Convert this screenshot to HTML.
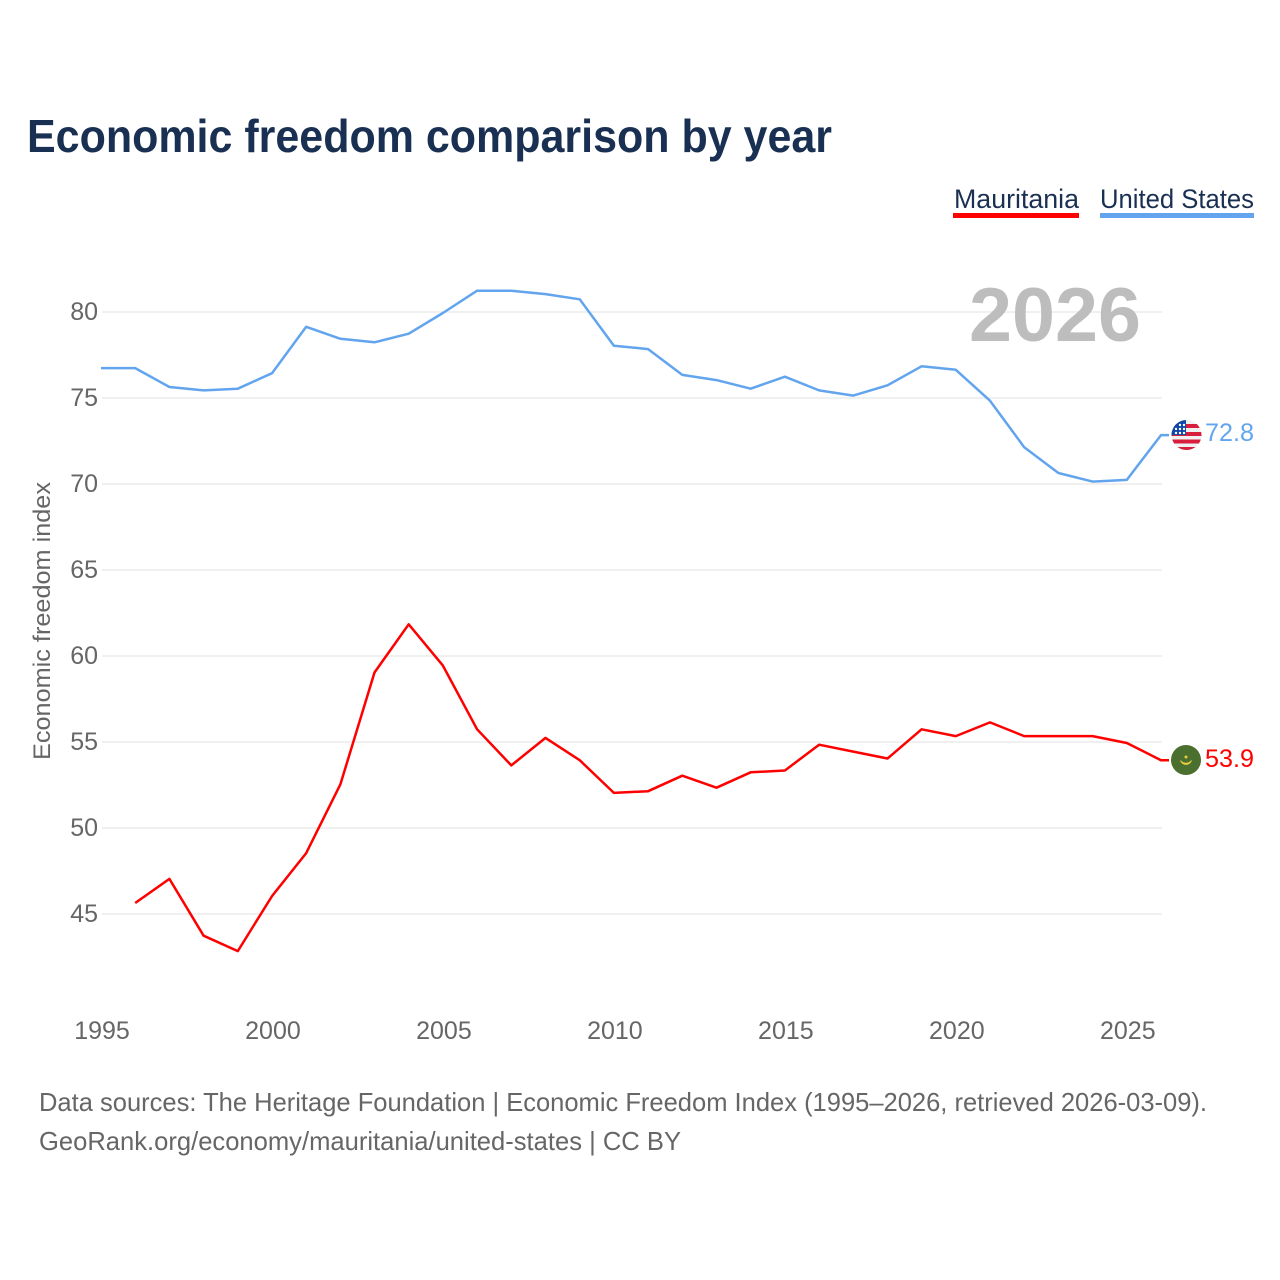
<!DOCTYPE html>
<html lang="en">
<head>
<meta charset="utf-8">
<title>Economic freedom comparison by year</title>
<style>
html,body{margin:0;padding:0;background:#fff;width:1280px;height:1280px;overflow:hidden}
svg{display:block}
text{font-family:"Liberation Sans",sans-serif}
</style>
</head>
<body>
<svg id="chart" xmlns="http://www.w3.org/2000/svg" width="1280" height="1280" viewBox="0 0 1280 1280">
  <defs>
    <clipPath id="us-clip"><circle cx="1186.5" cy="435" r="15"/></clipPath>
    <clipPath id="mr-clip"><circle cx="1186" cy="760" r="15"/></clipPath>
  </defs>
  <text x="27" y="152" font-size="46" font-weight="700" fill="#1a3052" textLength="805" lengthAdjust="spacingAndGlyphs">Economic freedom comparison by year</text>

  <g>
    <text x="954" y="208" font-size="27" fill="#1a3052" textLength="125" lengthAdjust="spacingAndGlyphs">Mauritania</text>
    <rect x="953" y="213" width="126" height="5" fill="#ff0000"/>
  </g>
  <g>
    <text x="1100" y="208" font-size="27" fill="#1a3052" textLength="154" lengthAdjust="spacingAndGlyphs">United States</text>
    <rect x="1100" y="213" width="154" height="5" fill="#62a5ee"/>
  </g>

  <g id="grid"></g>
  <g id="yticks"></g>
  <g id="xticks"></g>

  <text x="969" y="341" font-size="76" font-weight="700" fill="#bdbdbd" textLength="172" lengthAdjust="spacingAndGlyphs">2026</text>

  <text transform="translate(50,621) rotate(-90)" text-anchor="middle" font-size="24" fill="#666666" textLength="278" lengthAdjust="spacingAndGlyphs">Economic freedom index</text>

  <g id="series" transform="translate(-1,-0.7)"></g>

  <g clip-path="url(#us-clip)">
    <rect x="1171" y="420" width="31" height="30" fill="#f0f0f0"/>
    <rect x="1171" y="424" width="31" height="4" fill="#d81e3c"/>
    <rect x="1171" y="432" width="31" height="4" fill="#d81e3c"/>
    <rect x="1171" y="439.500" width="31" height="4" fill="#d81e3c"/>
    <rect x="1171" y="447" width="31" height="3" fill="#d81e3c"/>
    <rect x="1171" y="420" width="15" height="15" fill="#0d47a8"/>
    <g fill="#ffffff">
      <circle cx="1176" cy="429" r="1.200"/><circle cx="1180" cy="429" r="1.200"/><circle cx="1184" cy="429" r="1.200"/>
      <circle cx="1176" cy="433" r="1.200"/><circle cx="1180" cy="433" r="1.200"/><circle cx="1184" cy="433" r="1.200"/>
      <circle cx="1180" cy="425" r="1.200"/><circle cx="1184" cy="425" r="1.200"/>
    </g>
  </g>
  <g>
    <circle cx="1186" cy="760" r="15" fill="#4a6f2f"/>
    <path d="M1180.500 760.500 A5.800 5.800 0 0 0 1191.500 760.500 A7 7 0 0 1 1180.500 760.500 Z" fill="#e8cf3c" stroke="#e8cf3c" stroke-width="0.800"/>
    <circle cx="1186" cy="757" r="1.500" fill="#e8cf3c"/>
  </g>

  <text x="1205" y="441" font-size="25" fill="#62a5ee" textLength="49" lengthAdjust="spacingAndGlyphs">72.8</text>
  <text x="1205" y="767" font-size="25" fill="#ff0000" textLength="49" lengthAdjust="spacingAndGlyphs">53.9</text>

  <text x="39" y="1111" font-size="26" fill="#666666" textLength="1168" lengthAdjust="spacingAndGlyphs">Data sources: The Heritage Foundation | Economic Freedom Index (1995–2026, retrieved 2026-03-09).</text>
  <text x="39" y="1150" font-size="26" fill="#666666" textLength="642" lengthAdjust="spacingAndGlyphs">GeoRank.org/economy/mauritania/united-states | CC BY</text>
</svg>
<script>
const years = [1995,1996,1997,1998,1999,2000,2001,2002,2003,2004,2005,2006,2007,2008,2009,2010,2011,2012,2013,2014,2015,2016,2017,2018,2019,2020,2021,2022,2023,2024,2025,2026];
const unitedStates = [76.7,76.7,75.6,75.4,75.5,76.4,79.1,78.4,78.2,78.7,79.9,81.2,81.2,81.0,80.7,78.0,77.8,76.3,76.0,75.5,76.2,75.4,75.1,75.7,76.8,76.6,74.8,72.1,70.6,70.1,70.2,72.8];
const mauritania = [null,45.6,47.0,43.7,42.8,46.0,48.5,52.5,59.0,61.8,59.4,55.7,53.6,55.2,53.9,52.0,52.1,53.0,52.3,53.2,53.3,54.8,54.4,54.0,55.7,55.3,56.1,55.3,55.3,55.3,54.9,53.9];
const yTicks = [45,50,55,60,65,70,75,80];
const xTicks = [1995,2000,2005,2010,2015,2020,2025];

const NS = 'http://www.w3.org/2000/svg';
function xScale(year){ return 102 + (year - 1995) * (1162 - 102) / 31; }
function yScale(v){ return 312 + (80 - v) * 17.2; }

const gridG = document.getElementById('grid');
const yG = document.getElementById('yticks');
const xG = document.getElementById('xticks');
const seriesG = document.getElementById('series');

yTicks.forEach(function(t){
  const line = document.createElementNS(NS,'line');
  
  
  line.setAttribute('x1', xScale(1995));
  line.setAttribute('x2', xScale(2026));
  line.setAttribute('y1', yScale(t));
  line.setAttribute('y2', yScale(t));
  line.setAttribute('stroke', '#f0f0f0');
  line.setAttribute('stroke-width', '2');
  gridG.appendChild(line);

  const label = document.createElementNS(NS,'text');
  
  
  label.setAttribute('x', 98);
  label.setAttribute('y', yScale(t) + 8);
  label.setAttribute('text-anchor', 'end');
  label.setAttribute('font-size', '25');
  label.setAttribute('fill', '#666666');
  label.textContent = t;
  yG.appendChild(label);
});

xTicks.forEach(function(t){
  const label = document.createElementNS(NS,'text');
  
  
  label.setAttribute('x', xScale(t));
  label.setAttribute('y', 1039);
  label.setAttribute('text-anchor', 'middle');
  label.setAttribute('font-size', '25');
  label.setAttribute('fill', '#666666');
  label.textContent = t;
  xG.appendChild(label);
});

function buildPath(values){
  let d = '';
  let last = null;
  values.forEach(function(v, i){
    if (v === null) return;
    d += (d ? 'L' : 'M') + xScale(years[i]).toFixed(1) + ' ' + yScale(v).toFixed(1);
    last = v;
  });
  d += 'L' + (xScale(2026) + 8).toFixed(1) + ' ' + yScale(last).toFixed(1);
  return d;
}

const usLine = document.createElementNS(NS,'path');


usLine.setAttribute('d', buildPath(unitedStates));
usLine.setAttribute('fill', 'none');
usLine.setAttribute('stroke', '#62a5ee');
usLine.setAttribute('stroke-width', '2.5');
usLine.setAttribute('stroke-linejoin', 'round');
seriesG.appendChild(usLine);

const mrLine = document.createElementNS(NS,'path');


mrLine.setAttribute('d', buildPath(mauritania));
mrLine.setAttribute('fill', 'none');
mrLine.setAttribute('stroke', '#ff0000');
mrLine.setAttribute('stroke-width', '2.5');
mrLine.setAttribute('stroke-linejoin', 'round');
seriesG.appendChild(mrLine);
</script>
</body>
</html>
